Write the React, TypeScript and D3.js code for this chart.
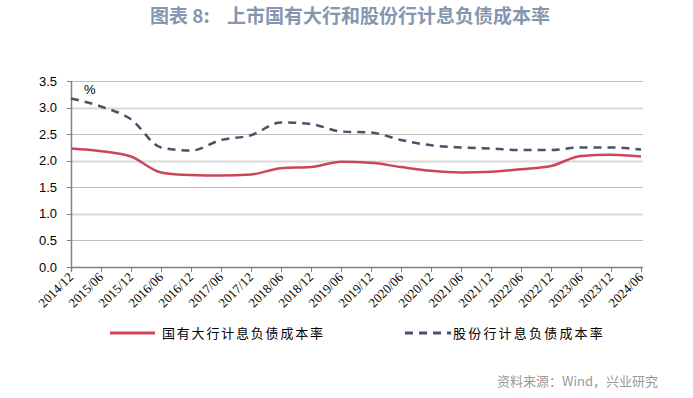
import * as d3 from "d3";

const periods = [
  "2014/12", "2015/06", "2015/12", "2016/06", "2016/12", "2017/06", "2017/12",
  "2018/06", "2018/12", "2019/06", "2019/12", "2020/06", "2020/12", "2021/06",
  "2021/12", "2022/06", "2022/12", "2023/06", "2023/12", "2024/06",
];
const bigBanks = [
  2.23, 2.18, 2.08, 1.78, 1.73, 1.72, 1.74, 1.86, 1.88, 1.98,
  1.96, 1.88, 1.81, 1.78, 1.79, 1.84, 1.90, 2.09, 2.11, 2.08,
];
const jointStock = [
  3.17, 3.02, 2.78, 2.25, 2.19, 2.39, 2.48, 2.72, 2.69, 2.55,
  2.53, 2.39, 2.29, 2.25, 2.23, 2.20, 2.20, 2.25, 2.25, 2.21,
];
const yTicks = [0, 0.5, 1, 1.5, 2, 2.5, 3, 3.5];
const seriesNames = ["国有大行计息负债成本率", "股份行计息负债成本率"];

const W = 693;
const H = 398;
const left = 71;
const right = 643;
const top = 81;
const bottom = 267;

const RED = "#cc4659";
const BLUE = "#44546a";
const CJK = "'Noto Sans CJK SC', sans-serif";

export default function App() {
  const x = d3.scalePoint<string>().domain(periods).range([left, 641]);
  const y = d3.scaleLinear().domain([0, 3.5]).range([bottom, top]);
  const line = d3
    .line<number>()
    .x((_, i) => x(periods[i]) as number)
    .y((d) => y(d))
    .curve(d3.curveMonotoneX);

  return (
    <svg
      width={W}
      height={H}
      style={{ position: "absolute", left: 0, top: 0, background: "#fff" }}
    >
      <rect width={W} height={H} fill="#fff" />
      <text
        x={350}
        y={23}
        textAnchor="middle"
        fontFamily={CJK}
        fontWeight="bold"
        fontSize={19}
        fill="#8496b0"
        style={{ whiteSpace: "pre" }}
      >
        {"图表 8:    上市国有大行和股份行计息负债成本率"}
      </text>

      {/* grid */}
      {yTicks.filter((t) => t > 0).map((t) => (
        <line
          key={t}
          x1={left}
          x2={right}
          y1={Math.round(y(t)) + 0.5}
          y2={Math.round(y(t)) + 0.5}
          stroke={t % 1 === 0 ? "#d9d9d9" : "#bfbfbf"}
          strokeWidth={t % 1 === 0 ? 2 : 1}
        />
      ))}

      {/* y axis */}
      <line x1={left + 0.5} x2={left + 0.5} y1={top} y2={bottom + 4} stroke="#808080" strokeWidth={1.5} />
      {yTicks.map((t) => (
        <g key={t}>
          <line x1={left - 4} x2={left} y1={Math.round(y(t)) + 0.5} y2={Math.round(y(t)) + 0.5} stroke="#808080" />
          <text
            x={57}
            y={y(t) + 4.5}
            textAnchor="end"
            fontFamily="'Liberation Sans Narrow', 'Liberation Sans', sans-serif"
            fontSize={13}
            fill="#000"
          >
            {t.toFixed(1)}
          </text>
        </g>
      ))}
      <text x={84} y={94} fontFamily="'Liberation Sans Narrow', 'Liberation Sans', sans-serif" fontSize={13} fill="#000">
        %
      </text>

      {/* x axis */}
      <line x1={left} x2={right} y1={bottom + 0.5} y2={bottom + 0.5} stroke="#808080" strokeWidth={1.5} />
      {periods.map((p) => {
        const px = x(p) as number;
        return (
          <g key={p}>
            <line x1={px + 0.5} x2={px + 0.5} y1={bottom} y2={bottom + 5} stroke="#808080" />
            <text
              transform={`translate(${px + 3},${bottom + 11}) rotate(-45)`}
              textAnchor="end"
              fontFamily="'Liberation Serif', serif"
              fontSize={13}
              fill="#000"
            >
              {p}
            </text>
          </g>
        );
      })}

      {/* lines */}
      <path d={line(bigBanks) ?? ""} fill="none" stroke={RED} strokeWidth={2.5} />
      <path d={line(jointStock) ?? ""} fill="none" stroke={BLUE} strokeWidth={2.5} strokeDasharray="8,6" />

      {/* legend */}
      <line x1={110} x2={155} y1={333} y2={333} stroke={RED} strokeWidth={3} />
      <text x={162} y={338} fontFamily={CJK} fontSize={13} letterSpacing={1.8} fill="#000">
        {seriesNames[0]}
      </text>
      <line x1={405} x2={451} y1={333} y2={333} stroke={BLUE} strokeWidth={3} strokeDasharray="8,6" />
      <text x={453} y={338} fontFamily={CJK} fontSize={13} letterSpacing={2.2} fill="#000">
        {seriesNames[1]}
      </text>

      {/* source */}
      <text x={658} y={386} textAnchor="end" fontFamily={CJK} fontSize={13} fill="#999">
        资料来源：Wind，兴业研究
      </text>
    </svg>
  );
}
